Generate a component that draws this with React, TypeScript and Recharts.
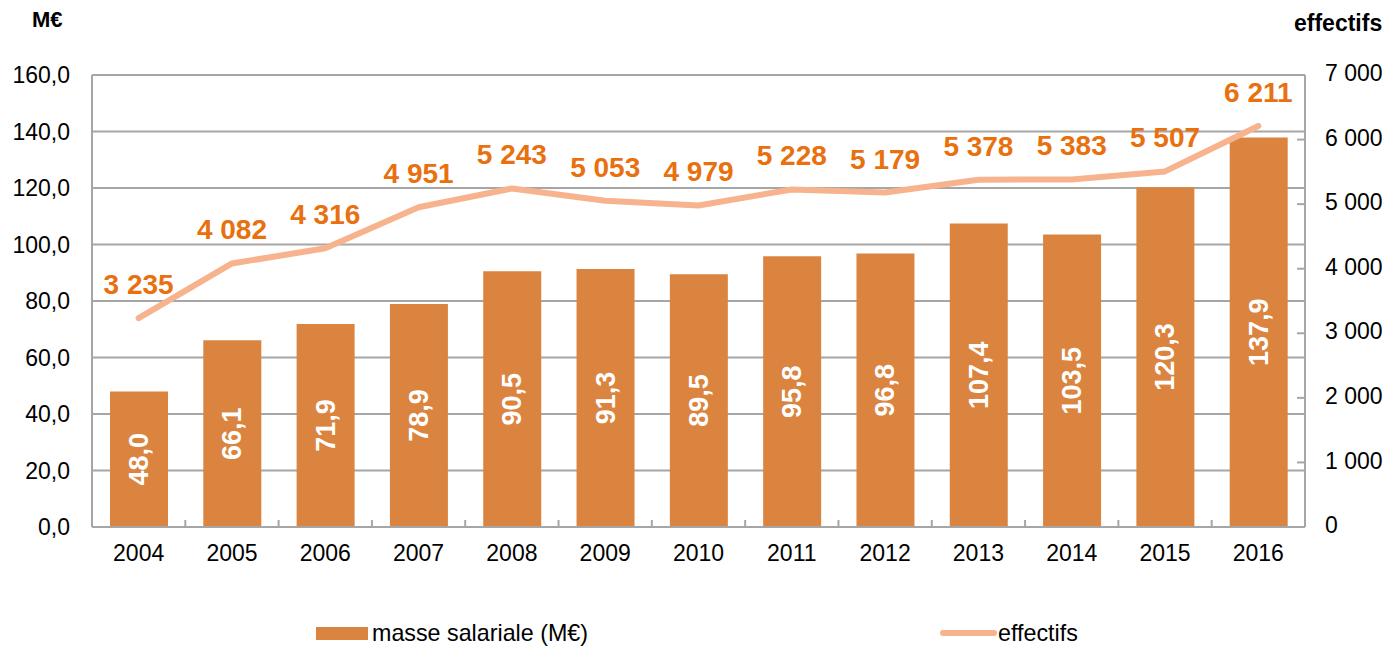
import * as React from 'react';
import {
  ComposedChart,
  Bar,
  Line,
  XAxis,
  YAxis,
  CartesianGrid,
  LabelList,
} from 'recharts';

const years = ['2004', '2005', '2006', '2007', '2008', '2009', '2010', '2011', '2012', '2013', '2014', '2015', '2016'];
const masseSalariale = [48.0, 66.1, 71.9, 78.9, 90.5, 91.3, 89.5, 95.8, 96.8, 107.4, 103.5, 120.3, 137.9];
const effectifs = [3235, 4082, 4316, 4951, 5243, 5053, 4979, 5228, 5179, 5378, 5383, 5507, 6211];
const leftTicks = [0, 20, 40, 60, 80, 100, 120, 140, 160];
const rightTicks = [0, 1000, 2000, 3000, 4000, 5000, 6000, 7000];

const W = 1391;
const H = 648;
const LEFT_W = 92;
const RIGHT_W = 86;
const BAND = (W - LEFT_W - RIGHT_W) / years.length;

const BAR_COLOR = '#DB843F';
const LINE_COLOR = '#F7B38D';
const LABEL_ORANGE = '#E8700F';
const GRID = '#A6A6A6';
const FONT = '"Liberation Sans", Arial, sans-serif';
const TICK_SIZE = 23;

const data = years.map((year, i) => ({
  year,
  masse: masseSalariale[i],
  effectifs: effectifs[i],
}));

const fmtComma = (v: number) => v.toFixed(1).replace('.', ',');
const fmtThousands = (v: number) => String(v).replace(/\B(?=(\d{3})+(?!\d))/g, ' ');

function XTick(props: any) {
  const { x, y, payload } = props;
  const axisY = y - 28;
  const bx = x - BAND / 2;
  return (
    <g>
      {payload.index > 0 && <line x1={bx} x2={bx} y1={axisY} y2={axisY - 7} stroke={GRID} strokeWidth={2} />}
      <text x={x} y={y} textAnchor="middle" dominantBaseline="middle" fontSize={TICK_SIZE} fill="#000" fontFamily={FONT}>
        {payload.value}
      </text>
    </g>
  );
}

function RightTick(props: any) {
  const { x, y, payload } = props;
  const ax = x - 20;
  return (
    <g>
      {payload.value > 0 && payload.value < 7000 && (
        <line x1={ax - 8} x2={ax} y1={y} y2={y} stroke={GRID} strokeWidth={2} />
      )}
      <text x={x} y={y} textAnchor="start" dominantBaseline="middle" fontSize={TICK_SIZE} fill="#000" fontFamily={FONT}>
        {fmtThousands(payload.value)}
      </text>
    </g>
  );
}

function BarValueLabel(props: any) {
  const { x, y, width, height, value } = props;
  const cx = x + width / 2;
  const cy = y + height / 2;
  return (
    <text
      x={cx}
      y={cy}
      transform={`rotate(-90 ${cx} ${cy})`}
      textAnchor="middle"
      dominantBaseline="central"
      fontSize={27}
      fontWeight="bold"
      fill="#fff"
      fontFamily={FONT}
    >
      {fmtComma(value)}
    </text>
  );
}

function LineValueLabel(props: any) {
  const { x, y, value } = props;
  return (
    <text x={x} y={y - 24} textAnchor="middle" fontSize={28} fontWeight="bold" fill={LABEL_ORANGE} fontFamily={FONT}>
      {fmtThousands(value)}
    </text>
  );
}

export default function App() {
  return (
    <div style={{ position: 'absolute', left: 0, top: 0, width: W, height: H, background: '#fff', fontFamily: FONT, overflow: 'hidden' }}>
      <ComposedChart width={W} height={H} data={data} margin={{ top: 75, right: 0, bottom: 0, left: 0 }}>
        <CartesianGrid yAxisId="left" vertical={false} stroke={GRID} strokeWidth={2} />
        <XAxis
          dataKey="year"
          height={121}
          stroke={GRID}
          strokeWidth={2}
          tickLine={false}
          tickSize={0}
          tickMargin={28}
          tick={<XTick />}
          interval={0}
        />
        <YAxis
          yAxisId="left"
          width={LEFT_W}
          domain={[0, 160]}
          ticks={leftTicks}
          tickFormatter={fmtComma}
          stroke={GRID}
          strokeWidth={2}
          tickLine={false}
          tickSize={0}
          tickMargin={22}
          tick={{ fontSize: TICK_SIZE, fill: '#000', fontFamily: FONT }}
          interval={0}
        />
        <YAxis
          yAxisId="right"
          orientation="right"
          width={RIGHT_W}
          domain={[0, 7000]}
          ticks={rightTicks}
          stroke={GRID}
          strokeWidth={2}
          tickLine={false}
          tickSize={0}
          tickMargin={20}
          tick={<RightTick />}
          interval={0}
        />
        <Bar yAxisId="left" dataKey="masse" fill={BAR_COLOR} barSize={58} isAnimationActive={false}>
          <LabelList dataKey="masse" content={<BarValueLabel />} />
        </Bar>
        <Line
          yAxisId="right"
          dataKey="effectifs"
          type="linear"
          stroke={LINE_COLOR}
          strokeWidth={6}
          strokeLinecap="round"
          strokeLinejoin="round"
          dot={false}
          activeDot={false}
          isAnimationActive={false}
        >
          <LabelList dataKey="effectifs" content={<LineValueLabel />} />
        </Line>
      </ComposedChart>
      <div style={{ position: 'absolute', left: 32, top: 7, fontSize: 22, fontWeight: 'bold' }}>M€</div>
      <div style={{ position: 'absolute', left: 1294, top: 10, fontSize: 23, fontWeight: 'bold' }}>effectifs</div>
      <div style={{ position: 'absolute', left: 316, top: 620, height: 26, display: 'flex', alignItems: 'center', lineHeight: '26px' }}>
        <span style={{ display: 'inline-block', width: 52, height: 13, background: BAR_COLOR, marginRight: 4 }} />
        <span style={{ fontSize: 24, display: 'inline-block', transform: 'scaleX(0.97)', transformOrigin: 'left center', whiteSpace: 'nowrap' }}>
          masse salariale (M€)
        </span>
      </div>
      <div style={{ position: 'absolute', left: 940, top: 620, height: 26, display: 'flex', alignItems: 'center', lineHeight: '26px' }}>
        <span style={{ display: 'inline-block', width: 57, height: 6, borderRadius: 3, background: LINE_COLOR, marginRight: 1 }} />
        <span style={{ fontSize: 24, display: 'inline-block', transform: 'scaleX(0.97)', transformOrigin: 'left center', whiteSpace: 'nowrap' }}>
          effectifs
        </span>
      </div>
    </div>
  );
}
